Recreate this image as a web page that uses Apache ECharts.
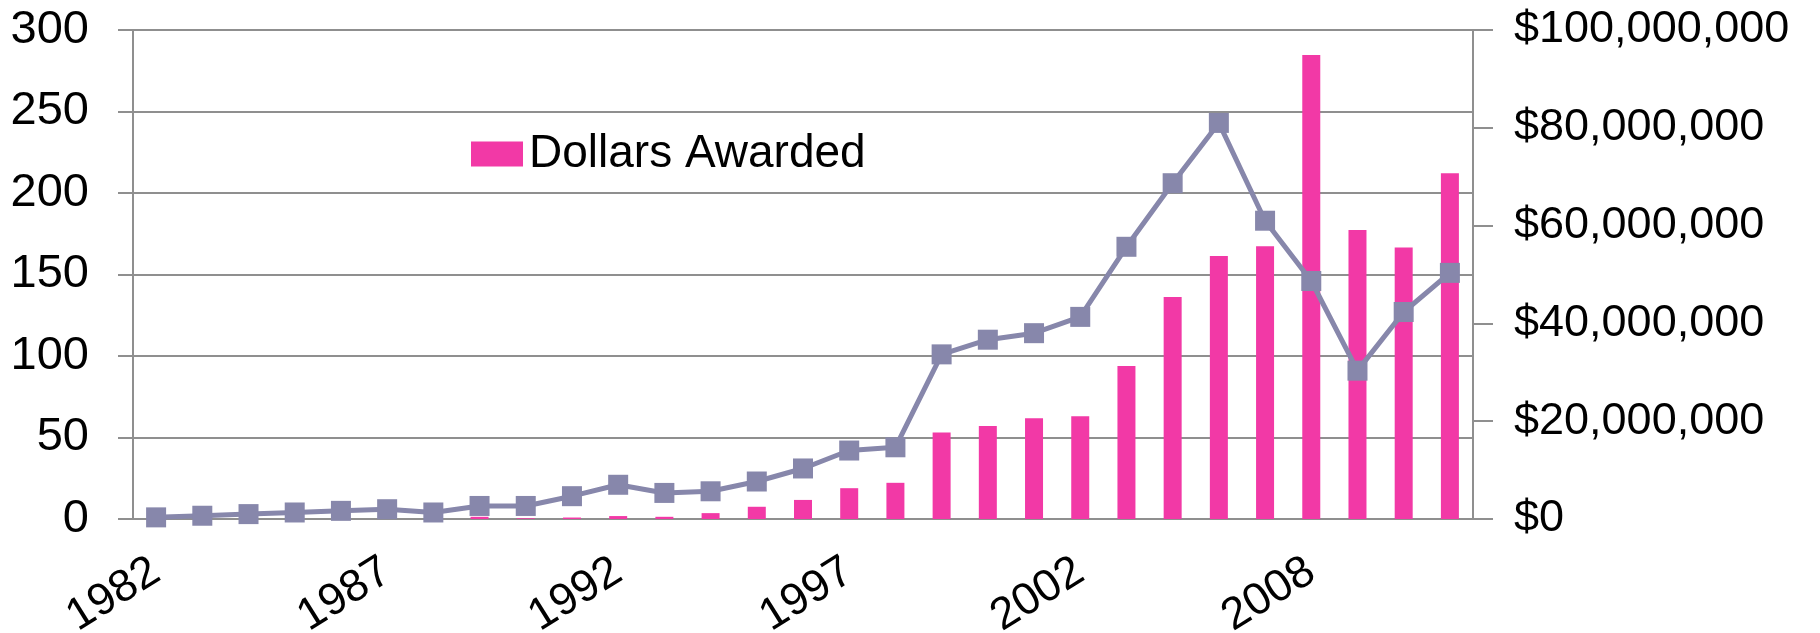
<!DOCTYPE html>
<html>
<head>
<meta charset="utf-8">
<script src="https://cdn.jsdelivr.net/npm/echarts@6/dist/echarts.min.js"></script>
<style>
html,body{margin:0;padding:0;background:#fff;}
#chart{width:1820px;height:633px;}
</style>
</head>
<body>
<div id="chart"></div>
<script>
var years = ['1982','1983','1984','1985','1986','1987','1988','1989','1990','1991','1992','1993','1994','1995','1996','1997','1998','1999','2000','2001','2002','2003','2004','2005','2006','2008','2009','2010','2011'];
var awardCounts = [1,2,3,4,5,6,4,8,8,14,21,16,17,23,31,42,44,101,110,114,124,167,206,243,183,146,91,127,151];
var dollarsAwarded = [0,0,0,0,0,0,0,450000,150000,300000,600000,450000,1200000,2500000,3900000,6300000,7400000,17700000,19000000,20600000,21000000,31300000,45400000,53800000,55800000,94900000,59100000,55500000,70700000];
var leftTicks = {min:0, max:300, interval:50};
var rightTicks = {min:0, max:100000000, interval:20000000};

var FONT = '"Liberation Sans", Arial, sans-serif';
var GRAY = '#8f8f8f';
var chart = echarts.init(document.getElementById('chart'), null, {renderer:'canvas'});
chart.setOption({
  animation:false,
  backgroundColor:'#ffffff',
  grid:{left:133, right:347, top:30, bottom:114, containLabel:false, outerBoundsMode:'none'},
  legend:{
    data:['Dollars Awarded'],
    left:466, top:126,
    icon:'rect', itemWidth:52, itemHeight:25, itemGap:10,
    textStyle:{fontSize:46, color:'#000', fontFamily:FONT, padding:[0,0,0,1]}
  },
  xAxis:{
    type:'category', data:years, boundaryGap:true,
    axisLine:{lineStyle:{color:GRAY, width:2}},
    axisTick:{interval:0, length:13, lineStyle:{color:GRAY, width:2}},
    axisLabel:{interval:4, rotate:32, margin:49, fontSize:45, color:'#000', fontFamily:FONT}
  },
  yAxis:[{
    type:'value', min:leftTicks.min, max:leftTicks.max, interval:leftTicks.interval, position:'left',
    axisLine:{show:true, lineStyle:{color:GRAY, width:2}},
    axisTick:{show:true, length:15, lineStyle:{color:GRAY, width:2}},
    splitLine:{show:true, lineStyle:{color:GRAY, width:2}},
    axisLabel:{margin:44, fontSize:47, color:'#000', fontFamily:FONT}
  },{
    type:'value', min:rightTicks.min, max:rightTicks.max, interval:rightTicks.interval, position:'right',
    axisLine:{show:true, lineStyle:{color:GRAY, width:2}},
    axisTick:{show:true, length:20, lineStyle:{color:GRAY, width:2}},
    splitLine:{show:false},
    axisLabel:{margin:41, fontSize:45, color:'#000', fontFamily:FONT,
      formatter:function(v){return '$' + v.toString().replace(/\B(?=(\d{3})+(?!\d))/g, ',');}}
  }],
  series:[{
    name:'Dollars Awarded', type:'bar', yAxisIndex:1, data:dollarsAwarded,
    barWidth:18, itemStyle:{color:'#F239A6'}, z:2
  },{
    name:'Awards', type:'line', yAxisIndex:0, data:awardCounts,
    symbol:'rect', symbolSize:20, showAllSymbol:true,
    lineStyle:{color:'#8787AB', width:5},
    itemStyle:{color:'#8787AB'}, z:3
  }]
});
</script>
</body>
</html>
